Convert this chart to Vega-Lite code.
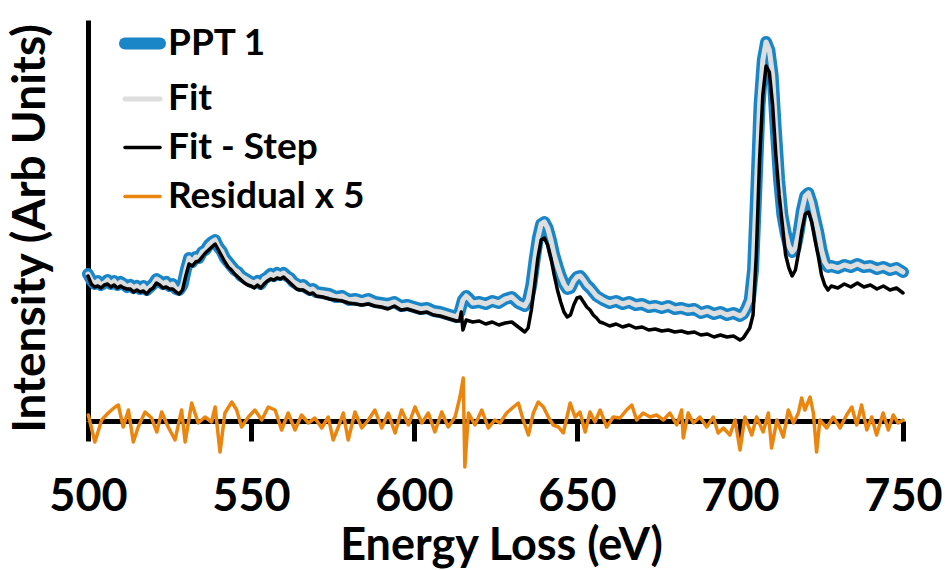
{
  "$schema": "https://vega.github.io/schema/vega-lite/v6.json",
  "width": 815,
  "height": 401,
  "autosize": "none",
  "padding": {"left": 88, "top": 20, "right": 42, "bottom": 149},
  "background": "white",
  "config": {
    "view": {"stroke": null},
    "font": "Lato"
  },
  "datasets": {
    "main": [
      {"e":500,"PPT 1":147,"Fit":147,"Fit - Step":145},
      {"e":501,"PPT 1":141,"Fit":141,"Fit - Step":137},
      {"e":502,"PPT 1":137,"Fit":137,"Fit - Step":134},
      {"e":503,"PPT 1":140,"Fit":140,"Fit - Step":135},
      {"e":504,"PPT 1":136,"Fit":136,"Fit - Step":133},
      {"e":505,"PPT 1":138,"Fit":138,"Fit - Step":136},
      {"e":506,"PPT 1":141,"Fit":141,"Fit - Step":137},
      {"e":507,"PPT 1":137,"Fit":137,"Fit - Step":134},
      {"e":508,"PPT 1":140,"Fit":140,"Fit - Step":136},
      {"e":509,"PPT 1":136,"Fit":136,"Fit - Step":133},
      {"e":510,"PPT 1":139,"Fit":139,"Fit - Step":135},
      {"e":511,"PPT 1":137,"Fit":137,"Fit - Step":133},
      {"e":512,"PPT 1":134,"Fit":134,"Fit - Step":132},
      {"e":513,"PPT 1":136,"Fit":136,"Fit - Step":132},
      {"e":514,"PPT 1":133,"Fit":133,"Fit - Step":129},
      {"e":515,"PPT 1":135,"Fit":135,"Fit - Step":131},
      {"e":516,"PPT 1":132,"Fit":132,"Fit - Step":129},
      {"e":517,"PPT 1":135,"Fit":135,"Fit - Step":130},
      {"e":518,"PPT 1":131,"Fit":131,"Fit - Step":127},
      {"e":519,"PPT 1":134,"Fit":134,"Fit - Step":131},
      {"e":520,"PPT 1":137,"Fit":137,"Fit - Step":133},
      {"e":521,"PPT 1":142,"Fit":142,"Fit - Step":138},
      {"e":522,"PPT 1":140,"Fit":140,"Fit - Step":136},
      {"e":523,"PPT 1":137,"Fit":137,"Fit - Step":133},
      {"e":524,"PPT 1":139,"Fit":139,"Fit - Step":134},
      {"e":525,"PPT 1":135,"Fit":135,"Fit - Step":132},
      {"e":526,"PPT 1":137,"Fit":137,"Fit - Step":132},
      {"e":527,"PPT 1":132,"Fit":132,"Fit - Step":129},
      {"e":528,"PPT 1":131,"Fit":131,"Fit - Step":127},
      {"e":529,"PPT 1":136,"Fit":136,"Fit - Step":131},
      {"e":530,"PPT 1":151,"Fit":151,"Fit - Step":145},
      {"e":531,"PPT 1":163,"Fit":163,"Fit - Step":157},
      {"e":532,"PPT 1":159,"Fit":159,"Fit - Step":155},
      {"e":533,"PPT 1":164,"Fit":164,"Fit - Step":159},
      {"e":534,"PPT 1":163,"Fit":163,"Fit - Step":160},
      {"e":535,"PPT 1":169,"Fit":169,"Fit - Step":164},
      {"e":536,"PPT 1":171,"Fit":171,"Fit - Step":168},
      {"e":537,"PPT 1":176,"Fit":176,"Fit - Step":171},
      {"e":538,"PPT 1":179,"Fit":179,"Fit - Step":174},
      {"e":539,"PPT 1":181,"Fit":181,"Fit - Step":177},
      {"e":540,"PPT 1":174,"Fit":174,"Fit - Step":171},
      {"e":541,"PPT 1":170,"Fit":170,"Fit - Step":165},
      {"e":542,"PPT 1":163,"Fit":163,"Fit - Step":159},
      {"e":543,"PPT 1":159,"Fit":159,"Fit - Step":154},
      {"e":544,"PPT 1":155,"Fit":155,"Fit - Step":151},
      {"e":545,"PPT 1":151,"Fit":151,"Fit - Step":147},
      {"e":546,"PPT 1":149,"Fit":149,"Fit - Step":144},
      {"e":547,"PPT 1":145,"Fit":145,"Fit - Step":141},
      {"e":548,"PPT 1":143,"Fit":143,"Fit - Step":138},
      {"e":549,"PPT 1":141,"Fit":141,"Fit - Step":136},
      {"e":550,"PPT 1":139,"Fit":139,"Fit - Step":135},
      {"e":551,"PPT 1":138,"Fit":138,"Fit - Step":133},
      {"e":552,"PPT 1":140,"Fit":140,"Fit - Step":136},
      {"e":553,"PPT 1":137,"Fit":137,"Fit - Step":133},
      {"e":554,"PPT 1":142,"Fit":142,"Fit - Step":137},
      {"e":555,"PPT 1":144,"Fit":144,"Fit - Step":140},
      {"e":556,"PPT 1":147,"Fit":147,"Fit - Step":142},
      {"e":557,"PPT 1":145,"Fit":145,"Fit - Step":141},
      {"e":558,"PPT 1":148,"Fit":148,"Fit - Step":143},
      {"e":559,"PPT 1":146,"Fit":146,"Fit - Step":142},
      {"e":560,"PPT 1":148,"Fit":148,"Fit - Step":144},
      {"e":561,"PPT 1":145,"Fit":145,"Fit - Step":141},
      {"e":562,"PPT 1":143,"Fit":143,"Fit - Step":138},
      {"e":563,"PPT 1":139,"Fit":139,"Fit - Step":135},
      {"e":564,"PPT 1":137,"Fit":137,"Fit - Step":132},
      {"e":565,"PPT 1":135,"Fit":135,"Fit - Step":131},
      {"e":566,"PPT 1":136,"Fit":136,"Fit - Step":131},
      {"e":567,"PPT 1":133,"Fit":133,"Fit - Step":129},
      {"e":568,"PPT 1":131,"Fit":131,"Fit - Step":127},
      {"e":569,"PPT 1":132,"Fit":132,"Fit - Step":128},
      {"e":570,"PPT 1":129,"Fit":129,"Fit - Step":125},
      {"e":572,"PPT 1":128,"Fit":128,"Fit - Step":124},
      {"e":574,"PPT 1":127,"Fit":127,"Fit - Step":122},
      {"e":576,"PPT 1":124,"Fit":124,"Fit - Step":121},
      {"e":578,"PPT 1":125,"Fit":125,"Fit - Step":120},
      {"e":580,"PPT 1":121,"Fit":121,"Fit - Step":118},
      {"e":582,"PPT 1":122,"Fit":122,"Fit - Step":117},
      {"e":584,"PPT 1":120,"Fit":120,"Fit - Step":116},
      {"e":586,"PPT 1":122,"Fit":122,"Fit - Step":117},
      {"e":588,"PPT 1":119,"Fit":119,"Fit - Step":115},
      {"e":590,"PPT 1":118,"Fit":118,"Fit - Step":114},
      {"e":592,"PPT 1":117,"Fit":117,"Fit - Step":112},
      {"e":594,"PPT 1":119,"Fit":119,"Fit - Step":115},
      {"e":596,"PPT 1":115,"Fit":115,"Fit - Step":111},
      {"e":598,"PPT 1":116,"Fit":116,"Fit - Step":112},
      {"e":600,"PPT 1":114,"Fit":114,"Fit - Step":110},
      {"e":602,"PPT 1":112,"Fit":112,"Fit - Step":108},
      {"e":604,"PPT 1":113,"Fit":113,"Fit - Step":109},
      {"e":606,"PPT 1":110,"Fit":110,"Fit - Step":106},
      {"e":608,"PPT 1":109,"Fit":109,"Fit - Step":105},
      {"e":610,"PPT 1":107,"Fit":107,"Fit - Step":103},
      {"e":612,"PPT 1":105,"Fit":105,"Fit - Step":101},
      {"e":613,"PPT 1":104,"Fit":104,"Fit - Step":100},
      {"e":614,"PPT 1":109,"Fit":109,"Fit - Step":100},
      {"e":614.5,"PPT 1":115,"Fit":115,"Fit - Step":109},
      {"e":615,"PPT 1":121,"Fit":121,"Fit - Step":91},
      {"e":616,"PPT 1":125,"Fit":125,"Fit - Step":101},
      {"e":617,"PPT 1":122,"Fit":122,"Fit - Step":100},
      {"e":618,"PPT 1":118,"Fit":118,"Fit - Step":99},
      {"e":620,"PPT 1":119,"Fit":119,"Fit - Step":100},
      {"e":622,"PPT 1":117,"Fit":117,"Fit - Step":97},
      {"e":624,"PPT 1":120,"Fit":120,"Fit - Step":99},
      {"e":626,"PPT 1":118,"Fit":118,"Fit - Step":96},
      {"e":628,"PPT 1":122,"Fit":122,"Fit - Step":98},
      {"e":630,"PPT 1":124,"Fit":124,"Fit - Step":99},
      {"e":632,"PPT 1":118,"Fit":118,"Fit - Step":94},
      {"e":634,"PPT 1":115,"Fit":115,"Fit - Step":89},
      {"e":635,"PPT 1":121,"Fit":121,"Fit - Step":93},
      {"e":636,"PPT 1":136,"Fit":136,"Fit - Step":111},
      {"e":637,"PPT 1":161,"Fit":161,"Fit - Step":136},
      {"e":638,"PPT 1":183,"Fit":183,"Fit - Step":163},
      {"e":639,"PPT 1":197,"Fit":197,"Fit - Step":181},
      {"e":640,"PPT 1":199,"Fit":199,"Fit - Step":183},
      {"e":641,"PPT 1":193,"Fit":193,"Fit - Step":176},
      {"e":642,"PPT 1":181,"Fit":181,"Fit - Step":163},
      {"e":643,"PPT 1":166,"Fit":166,"Fit - Step":146},
      {"e":644,"PPT 1":155,"Fit":155,"Fit - Step":131},
      {"e":645,"PPT 1":145,"Fit":145,"Fit - Step":119},
      {"e":646,"PPT 1":137,"Fit":137,"Fit - Step":109},
      {"e":647,"PPT 1":132,"Fit":132,"Fit - Step":104},
      {"e":648,"PPT 1":133,"Fit":133,"Fit - Step":106},
      {"e":649,"PPT 1":140,"Fit":140,"Fit - Step":116},
      {"e":650,"PPT 1":144,"Fit":144,"Fit - Step":123},
      {"e":651,"PPT 1":145,"Fit":145,"Fit - Step":124},
      {"e":652,"PPT 1":141,"Fit":141,"Fit - Step":119},
      {"e":653,"PPT 1":136,"Fit":136,"Fit - Step":114},
      {"e":654,"PPT 1":133,"Fit":133,"Fit - Step":111},
      {"e":655,"PPT 1":129,"Fit":129,"Fit - Step":106},
      {"e":656,"PPT 1":125,"Fit":125,"Fit - Step":103},
      {"e":657,"PPT 1":123,"Fit":123,"Fit - Step":99},
      {"e":658,"PPT 1":121,"Fit":121,"Fit - Step":98},
      {"e":660,"PPT 1":118,"Fit":118,"Fit - Step":95},
      {"e":662,"PPT 1":120,"Fit":120,"Fit - Step":97},
      {"e":664,"PPT 1":117,"Fit":117,"Fit - Step":94},
      {"e":666,"PPT 1":119,"Fit":119,"Fit - Step":96},
      {"e":668,"PPT 1":116,"Fit":116,"Fit - Step":93},
      {"e":670,"PPT 1":117,"Fit":117,"Fit - Step":94},
      {"e":672,"PPT 1":114,"Fit":114,"Fit - Step":91},
      {"e":674,"PPT 1":115,"Fit":115,"Fit - Step":92},
      {"e":676,"PPT 1":113,"Fit":113,"Fit - Step":90},
      {"e":678,"PPT 1":115,"Fit":115,"Fit - Step":91},
      {"e":680,"PPT 1":112,"Fit":112,"Fit - Step":89},
      {"e":682,"PPT 1":113,"Fit":113,"Fit - Step":90},
      {"e":684,"PPT 1":111,"Fit":111,"Fit - Step":88},
      {"e":686,"PPT 1":112,"Fit":112,"Fit - Step":89},
      {"e":688,"PPT 1":108,"Fit":108,"Fit - Step":86},
      {"e":690,"PPT 1":110,"Fit":110,"Fit - Step":87},
      {"e":692,"PPT 1":107,"Fit":107,"Fit - Step":84},
      {"e":694,"PPT 1":109,"Fit":109,"Fit - Step":86},
      {"e":696,"PPT 1":106,"Fit":106,"Fit - Step":84},
      {"e":698,"PPT 1":108,"Fit":108,"Fit - Step":85},
      {"e":700,"PPT 1":105,"Fit":105,"Fit - Step":81},
      {"e":701,"PPT 1":107,"Fit":107,"Fit - Step":83},
      {"e":702,"PPT 1":113,"Fit":113,"Fit - Step":88},
      {"e":703,"PPT 1":121,"Fit":121,"Fit - Step":93},
      {"e":704,"PPT 1":151,"Fit":151,"Fit - Step":106},
      {"e":705,"PPT 1":231,"Fit":231,"Fit - Step":166},
      {"e":706,"PPT 1":316,"Fit":316,"Fit - Step":261},
      {"e":707,"PPT 1":361,"Fit":361,"Fit - Step":326},
      {"e":708,"PPT 1":379,"Fit":379,"Fit - Step":355},
      {"e":709,"PPT 1":371,"Fit":371,"Fit - Step":349},
      {"e":710,"PPT 1":346,"Fit":346,"Fit - Step":316},
      {"e":711,"PPT 1":291,"Fit":291,"Fit - Step":266},
      {"e":712,"PPT 1":241,"Fit":241,"Fit - Step":226},
      {"e":713,"PPT 1":206,"Fit":206,"Fit - Step":196},
      {"e":714,"PPT 1":188,"Fit":188,"Fit - Step":166},
      {"e":715,"PPT 1":175,"Fit":175,"Fit - Step":153},
      {"e":716,"PPT 1":169,"Fit":169,"Fit - Step":145},
      {"e":717,"PPT 1":173,"Fit":173,"Fit - Step":151},
      {"e":718,"PPT 1":189,"Fit":189,"Fit - Step":169},
      {"e":719,"PPT 1":211,"Fit":211,"Fit - Step":191},
      {"e":720,"PPT 1":225,"Fit":225,"Fit - Step":207},
      {"e":721,"PPT 1":228,"Fit":228,"Fit - Step":209},
      {"e":722,"PPT 1":218,"Fit":218,"Fit - Step":199},
      {"e":723,"PPT 1":203,"Fit":203,"Fit - Step":181},
      {"e":724,"PPT 1":189,"Fit":189,"Fit - Step":165},
      {"e":725,"PPT 1":171,"Fit":171,"Fit - Step":146},
      {"e":726,"PPT 1":159,"Fit":159,"Fit - Step":136},
      {"e":727,"PPT 1":154,"Fit":154,"Fit - Step":131},
      {"e":728,"PPT 1":155,"Fit":155,"Fit - Step":135},
      {"e":730,"PPT 1":153,"Fit":153,"Fit - Step":133},
      {"e":732,"PPT 1":156,"Fit":156,"Fit - Step":137},
      {"e":734,"PPT 1":154,"Fit":154,"Fit - Step":134},
      {"e":736,"PPT 1":157,"Fit":157,"Fit - Step":138},
      {"e":738,"PPT 1":154,"Fit":154,"Fit - Step":134},
      {"e":740,"PPT 1":155,"Fit":155,"Fit - Step":136},
      {"e":742,"PPT 1":152,"Fit":152,"Fit - Step":132},
      {"e":744,"PPT 1":154,"Fit":154,"Fit - Step":135},
      {"e":746,"PPT 1":151,"Fit":151,"Fit - Step":131},
      {"e":748,"PPT 1":153,"Fit":153,"Fit - Step":133},
      {"e":750,"PPT 1":149,"Fit":149,"Fit - Step":128}
    ],
    "res": [
      {"e":500.1,"Residual x 5":6},{"e":502.1,"Residual x 5":-21},{"e":504.2,"Residual x 5":1},{"e":506.2,"Residual x 5":8},
      {"e":508.3,"Residual x 5":14},{"e":509.3,"Residual x 5":16},{"e":510.8,"Residual x 5":-6},{"e":512.4,"Residual x 5":11},
      {"e":513.9,"Residual x 5":-21},{"e":515.4,"Residual x 5":-6},{"e":517.5,"Residual x 5":9},{"e":519.5,"Residual x 5":3},
      {"e":521.1,"Residual x 5":-11},{"e":522.6,"Residual x 5":9},{"e":524.6,"Residual x 5":-6},{"e":526.7,"Residual x 5":-19},
      {"e":528.7,"Residual x 5":11},{"e":529.8,"Residual x 5":-21},{"e":531.8,"Residual x 5":18},{"e":533.8,"Residual x 5":-2},
      {"e":535.9,"Residual x 5":4},{"e":537.9,"Residual x 5":-1},{"e":539,"Residual x 5":14},{"e":540.5,"Residual x 5":-31},
      {"e":542,"Residual x 5":8},{"e":544.1,"Residual x 5":19},{"e":545.6,"Residual x 5":11},{"e":547.1,"Residual x 5":-6},
      {"e":549.2,"Residual x 5":4},{"e":551.2,"Residual x 5":11},{"e":553.3,"Residual x 5":1},{"e":555.3,"Residual x 5":14},
      {"e":557.4,"Residual x 5":11},{"e":559.4,"Residual x 5":-9},{"e":561.4,"Residual x 5":8},{"e":563.5,"Residual x 5":-9},
      {"e":565.5,"Residual x 5":6},{"e":567.6,"Residual x 5":-2},{"e":569.6,"Residual x 5":3},{"e":571.7,"Residual x 5":-7},
      {"e":573.7,"Residual x 5":4},{"e":575.2,"Residual x 5":-19},{"e":576.8,"Residual x 5":-6},{"e":578.3,"Residual x 5":8},
      {"e":579.8,"Residual x 5":-19},{"e":581.9,"Residual x 5":9},{"e":584,"Residual x 5":-7},{"e":586,"Residual x 5":1},
      {"e":588,"Residual x 5":11},{"e":590.1,"Residual x 5":-7},{"e":592.1,"Residual x 5":8},{"e":594.2,"Residual x 5":-12},
      {"e":596.2,"Residual x 5":11},{"e":598.3,"Residual x 5":-4},{"e":600.3,"Residual x 5":14},{"e":602.4,"Residual x 5":-2},
      {"e":604.4,"Residual x 5":8},{"e":606.4,"Residual x 5":-11},{"e":608.5,"Residual x 5":9},{"e":610.5,"Residual x 5":-6},
      {"e":612.6,"Residual x 5":4},{"e":614.1,"Residual x 5":24},{"e":615.1,"Residual x 5":43},{"e":615.6,"Residual x 5":-46},
      {"e":616.7,"Residual x 5":8},{"e":618.7,"Residual x 5":-4},{"e":620.8,"Residual x 5":11},{"e":622.8,"Residual x 5":-7},
      {"e":624.8,"Residual x 5":1},{"e":626.4,"Residual x 5":-2},{"e":628.4,"Residual x 5":8},{"e":630.5,"Residual x 5":14},
      {"e":632,"Residual x 5":18},{"e":633.5,"Residual x 5":1},{"e":635.1,"Residual x 5":-14},{"e":636.6,"Residual x 5":8},
      {"e":638.1,"Residual x 5":19},{"e":639.7,"Residual x 5":14},{"e":641.2,"Residual x 5":4},{"e":642.7,"Residual x 5":-4},
      {"e":644.3,"Residual x 5":-6},{"e":645.8,"Residual x 5":-12},{"e":647.9,"Residual x 5":18},{"e":649.4,"Residual x 5":4},
      {"e":650.9,"Residual x 5":9},{"e":652.5,"Residual x 5":-11},{"e":654,"Residual x 5":9},{"e":655.5,"Residual x 5":-1},
      {"e":657.1,"Residual x 5":11},{"e":659.1,"Residual x 5":-6},{"e":661.1,"Residual x 5":4},{"e":663.2,"Residual x 5":3},
      {"e":665.2,"Residual x 5":11},{"e":666.8,"Residual x 5":16},{"e":668.3,"Residual x 5":1},{"e":670.3,"Residual x 5":8},
      {"e":672.4,"Residual x 5":4},{"e":674.4,"Residual x 5":6},{"e":676.5,"Residual x 5":1},{"e":678.5,"Residual x 5":8},
      {"e":680.6,"Residual x 5":-4},{"e":682.1,"Residual x 5":11},{"e":682.6,"Residual x 5":-17},{"e":684.1,"Residual x 5":8},
      {"e":685.7,"Residual x 5":-2},{"e":687.7,"Residual x 5":4},{"e":689.8,"Residual x 5":-6},{"e":691.8,"Residual x 5":4},
      {"e":693.3,"Residual x 5":-12},{"e":694.9,"Residual x 5":-7},{"e":696.9,"Residual x 5":-14},{"e":698.5,"Residual x 5":1},
      {"e":700,"Residual x 5":-29},{"e":701.5,"Residual x 5":4},{"e":703.6,"Residual x 5":-14},{"e":705.1,"Residual x 5":4},
      {"e":707.1,"Residual x 5":-11},{"e":708.7,"Residual x 5":8},{"e":709.7,"Residual x 5":-27},{"e":711.3,"Residual x 5":1},
      {"e":713.3,"Residual x 5":-16},{"e":714.8,"Residual x 5":11},{"e":716.4,"Residual x 5":-2},{"e":717.9,"Residual x 5":8},
      {"e":718.9,"Residual x 5":23},{"e":719.9,"Residual x 5":11},{"e":721.5,"Residual x 5":24},{"e":722.5,"Residual x 5":8},
      {"e":723.5,"Residual x 5":-31},{"e":724.5,"Residual x 5":1},{"e":726.6,"Residual x 5":-7},{"e":728.6,"Residual x 5":4},
      {"e":730.7,"Residual x 5":-7},{"e":732.7,"Residual x 5":6},{"e":734.3,"Residual x 5":14},{"e":735.8,"Residual x 5":-4},
      {"e":737.3,"Residual x 5":16},{"e":738.9,"Residual x 5":-9},{"e":740.4,"Residual x 5":4},{"e":741.9,"Residual x 5":-14},
      {"e":743.9,"Residual x 5":8},{"e":745.5,"Residual x 5":-9},{"e":747,"Residual x 5":6},{"e":748.5,"Residual x 5":-2},
      {"e":750,"Residual x 5":1}
    ]
  },
  "encoding": {
    "x": {
      "field": "e",
      "type": "quantitative",
      "scale": {"domain": [500, 750], "nice": false, "zero": false},
      "axis": {
        "values": [500, 550, 600, 650, 700, 750],
        "grid": false,
        "domainColor": "black",
        "domainWidth": 5,
        "tickColor": "black",
        "tickWidth": 5,
        "tickSize": 20,
        "labelFlush": false,
        "labelFont": "Lato",
        "labelFontWeight": "bold",
        "labelFontSize": 45,
        "labelColor": "black",
        "labelBaseline": "alphabetic",
        "labelPadding": 69,
        "title": "Energy Loss (eV)",
        "titleFont": "Lato",
        "titleFontWeight": "bold",
        "titleFontSize": 45,
        "titleColor": "black",
        "titleX": 413,
        "titleY": 138,
        "titleBaseline": "alphabetic"
      }
    },
    "y": {
      "field": "v",
      "type": "quantitative",
      "scale": {"domain": [0, 401], "nice": false, "zero": false},
      "axis": {
        "grid": false,
        "ticks": false,
        "labels": false,
        "domainColor": "black",
        "domainWidth": 5,
        "title": "Intensity (Arb Units)",
        "titleFont": "Lato",
        "titleFontWeight": "bold",
        "titleFontSize": 46,
        "titleColor": "black",
        "titleX": -58,
        "titleY": 208,
        "titleAlign": "center",
        "titleBaseline": "middle"
      }
    },
    "color": {
      "field": "series",
      "type": "nominal",
      "scale": {
        "domain": ["PPT 1", "Fit", "Fit - Step", "Residual x 5"],
        "range": ["#1a86c8", "#dedede", "#000000", "#ea860f"]
      },
      "legend": {
        "title": null,
        "orient": "none",
        "legendX": 31,
        "legendY": 0,
        "symbolType": "stroke",
        "symbolSize": 1225,
        "labelFont": "Lato",
        "labelFontWeight": "bold",
        "labelFontSize": 37,
        "labelColor": "black",
        "labelOffset": 2,
        "rowPadding": 11,
        "labelLimit": 400,
        "encode": {"symbols": {"update": {"strokeCap": {"value": "round"}}}}
      }
    },
    "strokeWidth": {
      "field": "series",
      "type": "nominal",
      "scale": {
        "type": "ordinal",
        "domain": ["PPT 1", "Fit", "Fit - Step", "Residual x 5"],
        "range": [12, 5, 3.5, 3.5]
      },
      "legend": null
    }
  },
  "layer": [
    {
      "data": {"name": "main"},
      "transform": [{"fold": ["PPT 1"], "as": ["series", "v"]}],
      "mark": {"type": "line", "strokeCap": "round", "strokeJoin": "round"}
    },
    {
      "data": {"name": "main"},
      "transform": [{"fold": ["Fit"], "as": ["series", "v"]}],
      "mark": {"type": "line", "strokeCap": "round", "strokeJoin": "round"}
    },
    {
      "data": {"name": "main"},
      "transform": [{"fold": ["Fit - Step"], "as": ["series", "v"]}],
      "mark": {"type": "line", "strokeCap": "round", "strokeJoin": "round"}
    },
    {
      "data": {"name": "res"},
      "transform": [{"fold": ["Residual x 5"], "as": ["series", "v"]}],
      "mark": {"type": "line", "strokeCap": "round", "strokeJoin": "round"}
    }
  ]
}
